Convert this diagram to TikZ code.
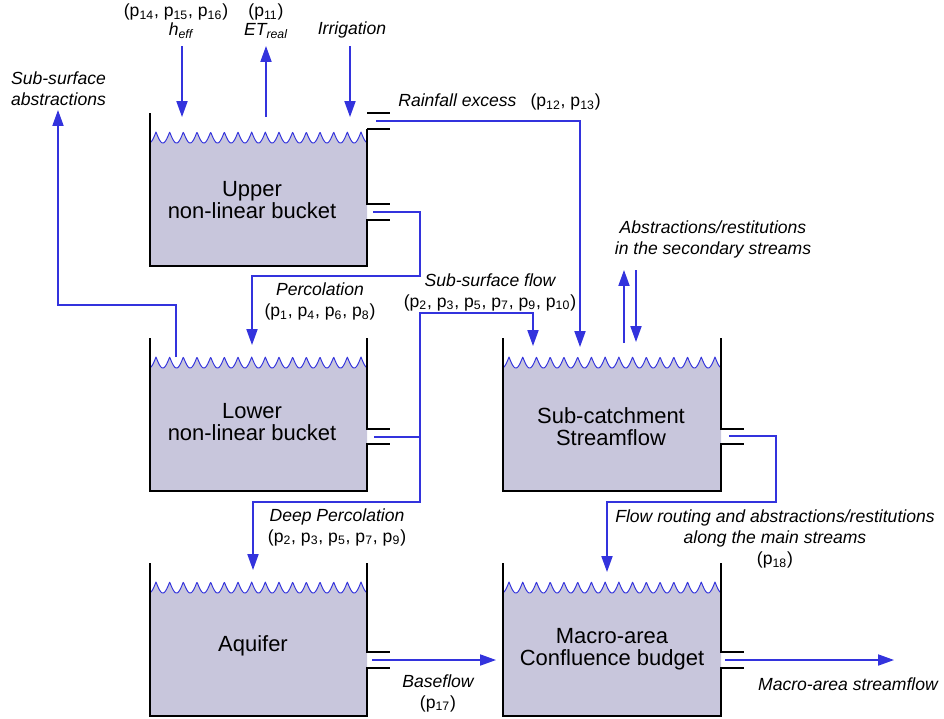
\documentclass[tikz,border=0pt]{standalone}
\usepackage{fontspec}
\setmainfont{Liberation Sans}
\usepackage{tikz}
\usetikzlibrary{arrows.meta}

\definecolor{flowblue}{RGB}{51,51,221}
\definecolor{bucketgray}{RGB}{200,198,220}

\newcommand{\pidx}[1]{p\textsubscript{#1}}
% #1 left, #2 right, #3 top, #4 bottom, #5 right wall top, #6 #7 outlet
\newcommand{\drawbucket}[7]{%
  \fill[bucketgray] plot[domain=#1:#2, samples=400]
    (\x, {#3+19+11*abs(sin((\x-#1-6)/(#2-#1-12)*2700))}) -- (#2,#4) -- (#1,#4) -- cycle;
  \draw[wave] plot[domain=#1:#2, samples=400]
    (\x, {#3+19+11*abs(sin((\x-#1-6)/(#2-#1-12)*2700))});
  \draw[wall] (#1,#3) -- (#1,#4) -- (#2,#4) -- (#2,#7) -- ++(23,0);
  \draw[wall] (#2,#5) -- (#2,#6) -- ++(23,0);
}

\begin{document}
\begin{tikzpicture}[
    x=0.02cm, y=-0.02cm,
    every node/.style={font=\fontsize{10}{11.9}\selectfont, inner sep=0pt, align=center},
    lbl/.style={font=\itshape\fontsize{10}{11.9}\selectfont},
    bucketname/.style={font=\fontsize{12.5}{12.5}\selectfont},
    wave/.style={draw=flowblue, line width=0.55pt, line join=round},
    wall/.style={draw=black, line width=0.9pt},
    flow/.style={
        draw=flowblue,
        line width=0.8pt,
        -{Triangle[length=9pt,width=6.3pt]}
    }
]
\useasboundingbox (0,0) rectangle (944,718);

% --- buckets ---
\drawbucket{150}{367}{113}{266}{129}{204}{220}
\draw[wall] (367,113) -- ++(23,0);
\draw[wall] (367,129) -- ++(23,0);
\drawbucket{150}{367}{338}{491}{338}{429}{444}
\drawbucket{150}{367}{563}{716}{563}{652}{668}
\drawbucket{503}{721}{338}{491}{338}{429}{444}
\drawbucket{503}{721}{563}{716}{563}{652}{668}

\node (upper) [bucketname] at (252,200) {Upper\\non-linear bucket};
\node (lower) [bucketname] at (252,422) {Lower\\non-linear bucket};
\node (aquifer) [bucketname] at (253,646) {Aquifer};
\node (subcatch) [bucketname] at (611,427) {Sub-catchment\\Streamflow};
\node (macro) [bucketname] at (612,649) {Macro-area\\Confluence budget};

% --- labels ---
\node (heffpar) at (176,12) {(\pidx{14}, \pidx{15}, \pidx{16})};
\node (heff) [lbl] at (181,31) {h\textsubscript{eff}};
\node (etpar) at (266,12) {(\pidx{11})};
\node (etreal) [lbl] at (266,31) {ET\textsubscript{real}};
\node (irrig) [lbl] at (352,30) {Irrigation};
\node (abslbl) [lbl] at (58.5,88.5) {Sub-surface\\abstractions};
\node (rainlbl) [lbl, anchor=west] at (398,102) {Rainfall excess\hspace{8pt}{\upshape(\pidx{12}, \pidx{13})}};
\node (perclbl) [lbl] at (320,301.5) {Percolation\\{\upshape(\pidx{1}, \pidx{4}, \pidx{6}, \pidx{8})}};
\node (sublbl) [lbl] at (490,292) {Sub-surface flow\\{\upshape(\pidx{2}, \pidx{3}, \pidx{5}, \pidx{7}, \pidx{9}, \pidx{10})}};
\node (secondlbl) [lbl] at (713,239) {Abstractions/restitutions\\in the secondary streams};
\node (deeplbl) [lbl] at (337,527) {Deep Percolation\\{\upshape(\pidx{2}, \pidx{3}, \pidx{5}, \pidx{7}, \pidx{9})}};
\node (routelbl) [lbl] at (775,539) {Flow routing and abstractions/restitutions\\along the main streams\\{\upshape(\pidx{18})}};
\node (baselbl) [lbl] at (438,693) {Baseflow\\{\upshape(\pidx{17})}};
\node (outlbl) [lbl] at (848,684) {Macro-area streamflow};

% --- connector ends ---
\coordinate (heff-a) at (182,46);
\coordinate (heff-b) at (182,117);
\coordinate (et-a) at (266,117);
\coordinate (et-b) at (266,46);
\coordinate (irrig-a) at (350,46);
\coordinate (irrig-b) at (350,117);
\coordinate (rain-out) at (376,121);
\coordinate (upper-out) at (373,212);
\coordinate (lower-out) at (374,437);
\coordinate (lower-surf) at (176,357);
\coordinate (abs-end) at (58,110);
\coordinate (lower-in) at (252,345);
\coordinate (aq-in) at (253,570);
\coordinate (aq-out) at (372,660);
\coordinate (sub-in-flow) at (533,346);
\coordinate (sub-in-rain) at (580,347);
\coordinate (sec-up-a) at (624,343);
\coordinate (sec-up-b) at (624,270);
\coordinate (sec-dn-a) at (636,270);
\coordinate (sec-dn-b) at (636,342);
\coordinate (sub-out) at (729,436);
\coordinate (macro-in) at (607,572);
\coordinate (macro-west) at (496,660);
\coordinate (macro-out) at (725,660);
\coordinate (stream-end) at (894,660);

% --- arrows ---
\draw [flow] (heff-a) -- (heff-b);
\draw [flow] (et-a) -- (et-b);
\draw [flow] (irrig-a) -- (irrig-b);
\draw [flow] (rain-out) -| (sub-in-rain);
\draw [flow] (upper-out) -- ++(47,0) -- ++(0,64) -| (lower-in);
\draw [flow] (lower-surf) -- ++(0,-52) -| (abs-end);
\draw [flow] (lower-out) -- ++(46,0) -- ++(0,-124) -| (sub-in-flow);
\draw [flow] (lower-out) -- ++(46,0) -- ++(0,65) -| (aq-in);
\draw [flow] (sec-up-a) -- (sec-up-b);
\draw [flow] (sec-dn-a) -- (sec-dn-b);
\draw [flow] (sub-out) -- ++(47,0) -- ++(0,66) -| (macro-in);
\draw [flow] (aq-out) -- (macro-west);
\draw [flow] (macro-out) -- (stream-end);

\end{tikzpicture}
\end{document}
